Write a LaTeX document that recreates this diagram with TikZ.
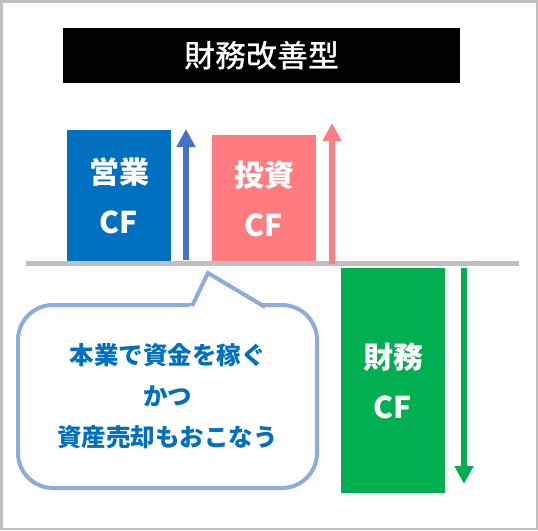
\documentclass[tikz,border=0pt]{standalone}
\usepackage{fontspec}
\newfontfamily\jp{Noto Sans CJK JP}
\newfontfamily\jpmed{Noto Sans CJK JP Medium}
\usetikzlibrary{arrows.meta}
\definecolor{cfblue}{HTML}{0070C0}
\definecolor{arrblue}{HTML}{4472C4}
\definecolor{cfpink}{HTML}{FF7C80}
\definecolor{cfgreen}{HTML}{00B050}
\definecolor{framegray}{HTML}{BFBFBF}
\definecolor{callborder}{HTML}{8FAADC}
\tikzset{
  cfbox/.style={minimum width=104pt, align=center, text=white, inner sep=0pt,
    font={\jp\bfseries\fontsize{30}{50}\selectfont}},
  flow/.style={line width=6pt, -{Triangle[width=18pt,length=18pt]}},
}
\begin{document}
\begin{tikzpicture}[x=1pt,y=-1pt]
\useasboundingbox (0,0) rectangle (538,530);
\draw[framegray, line width=2.5pt] (1.25,1.25) rectangle (536.75,528.75);
% title
\node[fill=black, minimum width=397pt, minimum height=55pt, inner sep=0pt,
  text=white, font={\jpmed\fontsize{31}{36}\selectfont}] (title) at (261.5,55.5) {財務改善型};
% boxes
\node[cfbox, fill=cfblue, minimum height=132pt] (op) at (119,196) {営業\\CF};
\node[cfbox, fill=cfpink, minimum height=127pt] (inv) at (264,198.5) {投資\\CF};
\node[cfbox, fill=cfgreen, minimum height=225pt] (fin) at (393,380.5) {財務\\CF};
% baseline
\coordinate (l1) at (26,263.5);
\coordinate (l2) at (518.5,263.5);
\draw[framegray, line width=5pt] (l1) -- (l2);
% arrows
\coordinate (a1s) at (186,260);
\coordinate (a1e) at (186,129);
\coordinate (a2s) at (332,264);
\coordinate (a2e) at (332,123);
\coordinate (a3s) at (464,268);
\coordinate (a3e) at (464,484);
\draw[flow, arrblue] (a1s) -- (a1e);
\draw[flow, cfpink] (a2s) -- (a2e);
\draw[flow, cfgreen] (a3s) -- (a3e);
% callout
\node[draw=callborder, line width=4pt, fill=white, rounded corners=35pt,
  minimum width=299pt, minimum height=183pt, align=center, text=cfblue,
  font={\jp\bfseries\fontsize{24.5}{41}\selectfont}] (call) at (167.5,396.5)
  {本業で資金を稼ぐ\\かつ\\資産売却もおこなう};
\coordinate (pl) at (192,306);
\coordinate (pt) at (208,273);
\coordinate (pr) at (265,307);
\fill[white] (189,309) -- (pt) -- (268,309) -- cycle;
\draw[callborder, line width=4pt, line join=miter] (pl) -- (pt) -- (pr);
\end{tikzpicture}
\end{document}
